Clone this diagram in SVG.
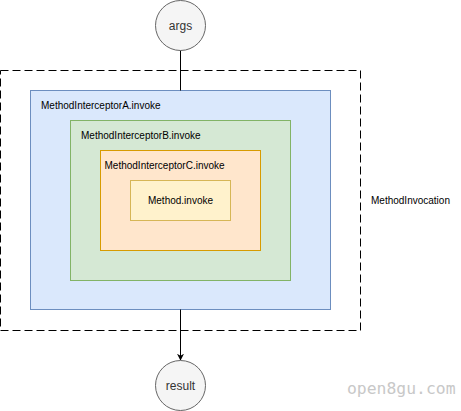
<svg xmlns="http://www.w3.org/2000/svg" width="461" height="411" viewBox="0 0 461 411">
<defs>
<style>
.lbl{font-family:"Liberation Sans",Arial,sans-serif;font-size:10px;fill:#000}
.circ{fill:#f5f5f5;stroke:#666666;stroke-width:1}
.ctext{font-family:"Liberation Sans",Arial,sans-serif;font-size:12px;fill:#333333;text-anchor:middle}
.edge{stroke:#000;stroke-width:1;fill:none}
</style>
<marker id="arr" viewBox="0 0 10 10" refX="9" refY="5" markerWidth="7" markerHeight="7" markerUnits="userSpaceOnUse" orient="auto">
<path d="M0,0 L10,5 L0,10 L3,5 Z" fill="#000"/>
</marker>
</defs>
<rect width="461" height="411" fill="#ffffff"/>
<g id="invocation">
<rect x="0.5" y="70.5" width="360" height="260" fill="none" stroke="#000" stroke-width="1" stroke-dasharray="8 4"/>
<text class="lbl" x="371" y="203.5">MethodInvocation</text>
</g>
<g id="interceptorA">
<rect x="30.5" y="90.5" width="300" height="219" fill="#dae8fc" stroke="#6c8ebf"/>
<text class="lbl" x="41" y="108.5">MethodInterceptorA.invoke</text>
</g>
<g id="interceptorB">
<rect x="70.5" y="120.5" width="220" height="160" fill="#d5e8d4" stroke="#82b366"/>
<text class="lbl" x="81" y="138.5">MethodInterceptorB.invoke</text>
</g>
<g id="interceptorC">
<rect x="100.5" y="150.5" width="160" height="100" fill="#ffe6cc" stroke="#d79b00"/>
<text class="lbl" x="104.5" y="168.5">MethodInterceptorC.invoke</text>
</g>
<g id="method">
<rect x="130.5" y="180.5" width="100" height="40" fill="#fff2cc" stroke="#d6b656"/>
<text class="lbl" x="180.5" y="204" text-anchor="middle">Method.invoke</text>
</g>
<g id="connectors">
<line class="edge" x1="180.5" y1="50" x2="180.5" y2="90.5"/>
<line class="edge" x1="180.5" y1="309.5" x2="180.5" y2="360" marker-end="url(#arr)"/>
</g>
<g id="args">
<circle class="circ" cx="180.5" cy="25.5" r="25"/>
<text class="ctext" x="180.5" y="30">args</text>
</g>
<g id="result">
<circle class="circ" cx="180.5" cy="385.5" r="25"/>
<text class="ctext" x="180.5" y="390">result</text>
</g>
<text x="347" y="394" font-family="'DejaVu Sans Mono',monospace" font-size="16.4px" fill="#c8c8c8">open8gu.com</text>
</svg>
